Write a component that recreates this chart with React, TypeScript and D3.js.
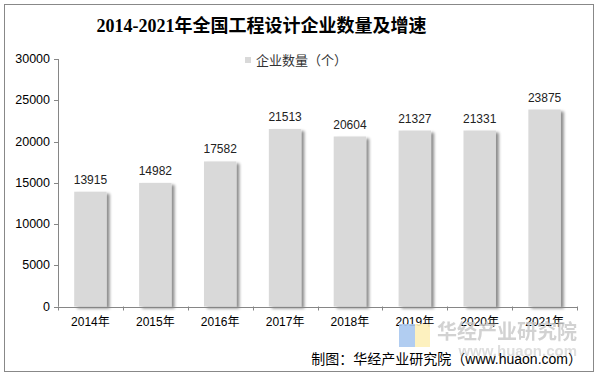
import React from "react";
import * as d3 from "d3";

const categories = ["2014年", "2015年", "2016年", "2017年", "2018年", "2019年", "2020年", "2021年"];
const values = [13915, 14982, 17582, 21513, 20604, 21327, 21331, 23875];
const yTicks = [0, 5000, 10000, 15000, 20000, 25000, 30000];
const title = "2014-2021年全国工程设计企业数量及增速";
const legendLabel = "企业数量（个）";
const source = "制图：华经产业研究院（www.huaon.com）";

export default function App() {
  const W = 598, H = 376;
  const left = 58, right = 577, top = 59, bottom = 306.5;
  const x = d3.scaleBand<string>().domain(categories).range([left, right]).paddingInner(0.5).paddingOuter(0.25);
  const xb = d3.scaleBand<string>().domain(categories).range([left, right]);
  const y = d3.scaleLinear().domain([0, 30000]).range([bottom, top]);
  const sans = "Arial, 'Liberation Sans', 'Noto Sans CJK SC', sans-serif";
  return (
    <svg width={W} height={H} style={{ position: "absolute", left: 0, top: 0 }}>
      <defs>
        <filter id="sh" x="-30%" y="-10%" width="160%" height="120%">
          <feGaussianBlur in="SourceAlpha" stdDeviation="1.5" />
          <feOffset dx="3" dy="2" result="b" />
          <feComponentTransfer><feFuncA type="linear" slope="0.45" /></feComponentTransfer>
          <feMerge><feMergeNode /><feMergeNode in="SourceGraphic" /></feMerge>
        </filter>
      </defs>
      <rect x={0} y={0} width={W} height={H} fill="#fff" />
      <rect x={4.5} y={4.5} width={589} height={367} fill="none" stroke="#888" strokeWidth={1} />
      <text x={261.5} y={32} textAnchor="middle" fontFamily="'Liberation Serif', 'Times New Roman', 'Noto Sans CJK SC', serif" fontWeight="bold" fontSize={18} fill="#000">{title}</text>
      {/* legend */}
      <rect x={245} y={57} width={6} height={6} fill="#d9d9d9" />
      <text x={256} y={65} fontFamily={sans} fontSize={13} fill="#333">{legendLabel}</text>
      {/* y axis */}
      <line x1={left + 0.5} x2={left + 0.5} y1={top} y2={bottom} stroke="#868686" />
      {yTicks.map((t) => (
        <g key={t}>
          <line x1={left - 4} x2={left} y1={Math.round(y(t)) + 0.5} y2={Math.round(y(t)) + 0.5} stroke="#868686" />
          <text x={left - 8} y={y(t) + 4} textAnchor="end" fontFamily={sans} fontSize={12.5} fill="#000">{t}</text>
        </g>
      ))}
      {/* bars */}
      {categories.map((c, i) => (
        <g key={c}>
          <rect x={x(c)!} y={y(values[i])} width={x.bandwidth()} height={bottom - y(values[i])} fill="#d9d9d9" filter="url(#sh)" />
          <text x={x(c)! + x.bandwidth() / 2} y={y(values[i]) - 8} textAnchor="middle" fontFamily={sans} fontSize={12} fill="#222">{values[i]}</text>
        </g>
      ))}
      {/* x axis */}
      <line x1={left} x2={right} y1={Math.round(bottom) + 0.5} y2={Math.round(bottom) + 0.5} stroke="#868686" />
      {categories.map((c) => (
        <line key={"t" + c} x1={Math.round(xb(c)!) + 0.5} x2={Math.round(xb(c)!) + 0.5} y1={bottom} y2={bottom + 4} stroke="#868686" />
      ))}
      <line x1={right + 0.5} x2={right + 0.5} y1={bottom} y2={bottom + 4} stroke="#868686" />
      {categories.map((c) => (
        <text key={"l" + c} x={xb(c)! + xb.bandwidth() / 2} y={326} textAnchor="middle" fontFamily={sans} fontSize={12} fill="#000">{c}</text>
      ))}
      {/* watermark */}
      <rect x={399} y={324} width={16} height={23} fill="#a8c8f0" opacity={0.9} />
      <rect x={415} y={324} width={15} height={23} fill="#fdf0b8" opacity={0.9} />
      <text x={577} y={339} textAnchor="end" fontFamily="'Noto Sans CJK SC', sans-serif" fontWeight="bold" fontSize={20} fill="#c8c8c8" opacity={0.8}>华经产业研究院</text>
      <text x={577} y={356} textAnchor="end" fontFamily={sans} fontWeight="bold" fontSize={15} fill="#d6d6d6" opacity={0.8}>www.huaon.com</text>
      <text x={582} y={364} textAnchor="end" fontFamily={sans} fontSize={14} fill="#000">{source}</text>
    </svg>
  );
}
